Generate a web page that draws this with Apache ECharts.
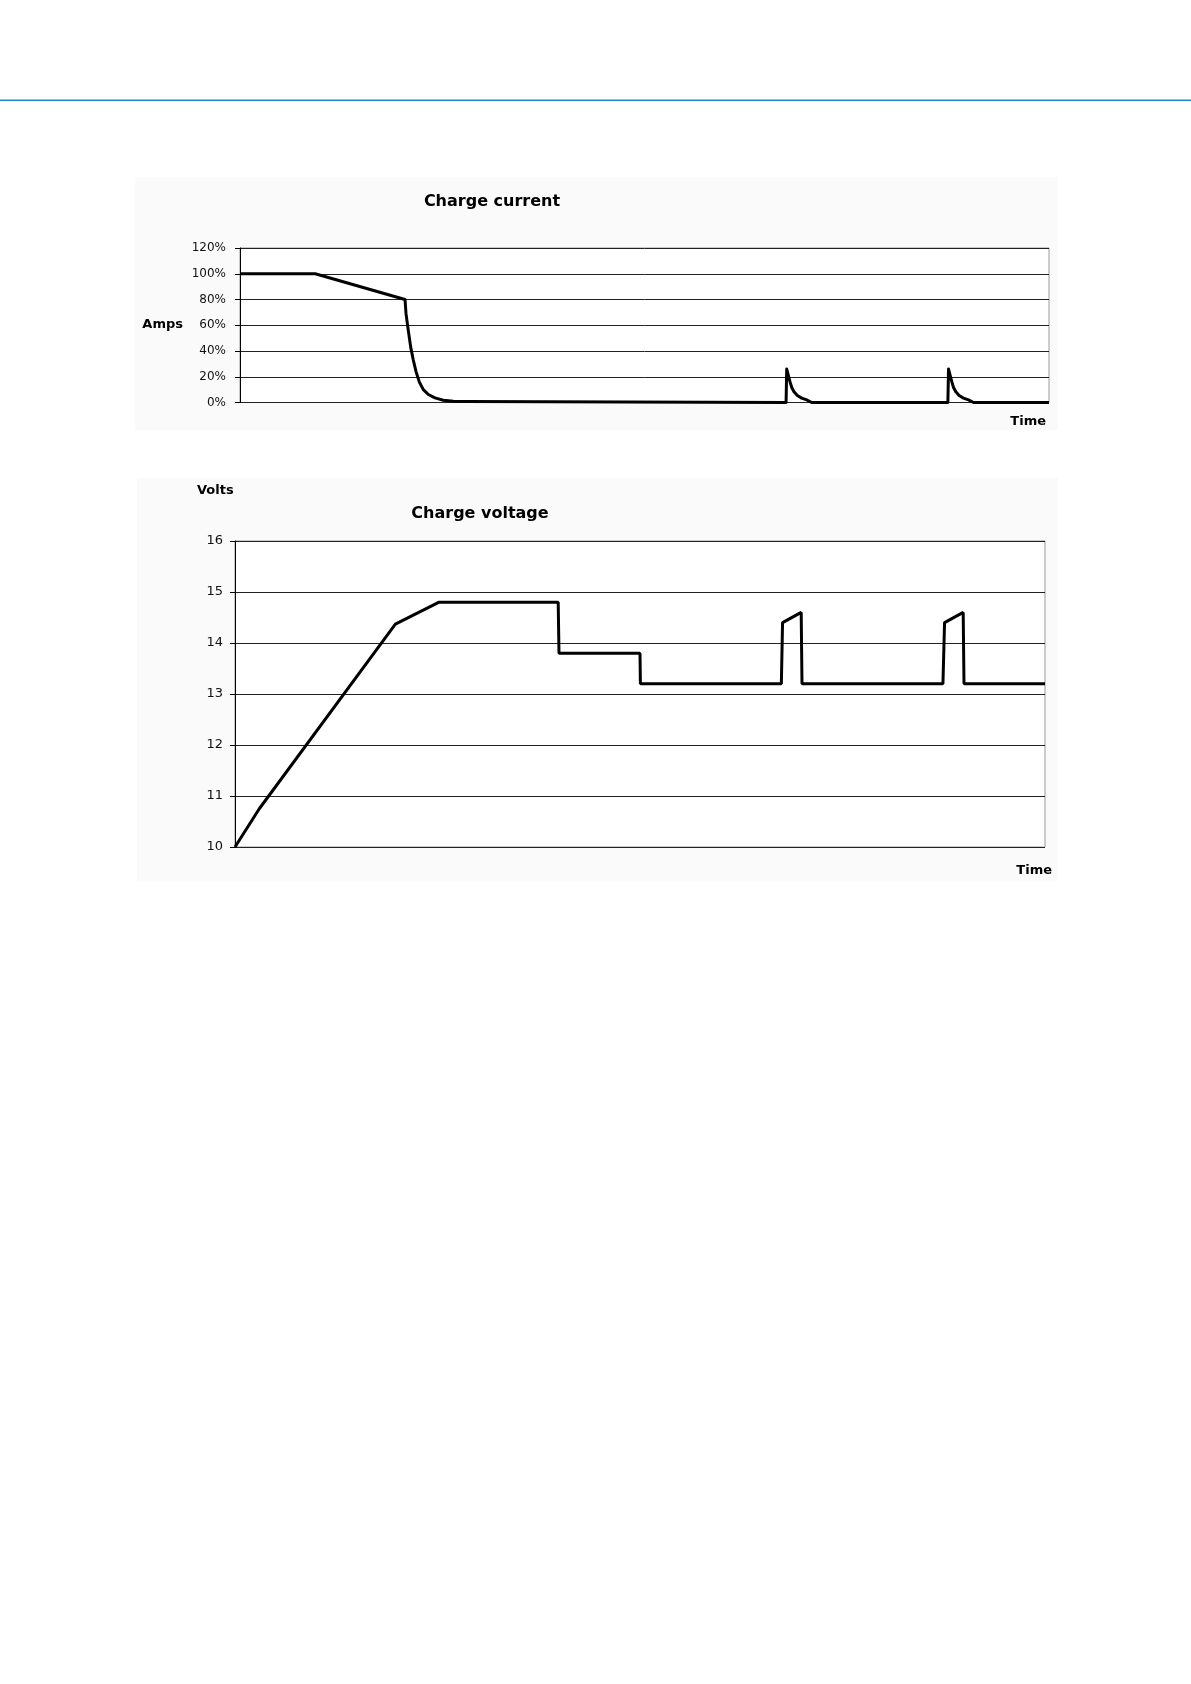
<!DOCTYPE html>
<html>
<head>
<meta charset="utf-8">
<script src="https://cdn.jsdelivr.net/npm/echarts@6/dist/echarts.min.js"></script>
<style>
  html, body { margin: 0; padding: 0; background: #fff; }
  #main { width: 1191px; height: 1684px; }
</style>
</head>
<body>
<div id="main"></div>
<script>
// charge current, time in arbitrary units (0..100), value in % of rated current
var currentTime = [0, 9.3, 20.4, 20.52, 20.8, 21.1, 21.42, 21.76, 22.16, 22.66, 23.28, 24.1, 25.13, 26.37, 28.0, 28.1,
                   67.5, 67.58, 67.78, 67.99, 68.2, 68.48, 68.89, 69.43, 70.05, 70.67,
                   87.5, 87.58, 87.78, 87.99, 88.2, 88.48, 88.89, 89.43, 90.05, 90.67, 100];
var currentPct  = [100, 100, 80, 69, 56, 43, 33, 24, 16, 10, 6.2, 3.6, 1.8, 1.0, 0.8, 0,
                   0, 26, 21, 16, 11.7, 8.3, 5.4, 3.4, 2, 0,
                   0, 26, 21, 16, 11.7, 8.3, 5.4, 3.4, 2, 0, 0];

// charge voltage
var voltTime = [0, 3.0, 19.8, 25.2, 39.9, 40.0, 50.0, 50.05, 67.45, 67.6, 69.9, 70.0, 87.4, 87.6, 89.9, 90.0, 100];
var voltVal  = [10, 10.75, 14.37, 14.8, 14.8, 13.8, 13.8, 13.2, 13.2, 14.4, 14.6, 13.2, 13.2, 14.4, 14.6, 13.2, 13.2];

function pairs(xs, ys) {
    var out = [];
    for (var i = 0; i < xs.length; i++) out.push([xs[i], ys[i]]);
    return out;
}

var font = 'DejaVu Sans';
var myChart = echarts.init(document.getElementById('main'), null, { renderer: 'canvas' });

var yCommon = {
    type: 'value',
    axisLine: { show: true, lineStyle: { color: '#000', width: 1 } },
    axisTick: { show: true, length: 5, lineStyle: { color: '#000' } },
    splitLine: { show: true, lineStyle: { color: '#222', width: 1 } },
    axisLabel: { color: '#111', fontFamily: font }
};

var option = {
    animation: false,
    backgroundColor: '#fff',
    graphic: [
        // blue rule at top of page
        { type: 'rect', shape: { x: 0, y: 99.5, width: 1191, height: 1.6 }, style: { fill: '#2088c8' }, z: -10 },
        // light panels behind the two charts
        { type: 'rect', shape: { x: 135, y: 177, width: 923, height: 253 }, style: { fill: '#fafafa' }, z: -10 },
        { type: 'rect', shape: { x: 137, y: 478, width: 921, height: 403 }, style: { fill: '#fafafa' }, z: -10 },
        // titles and axis names
        { type: 'text', x: 492, y: 202, style: { text: 'Charge current', font: 'bold 16px "DejaVu Sans"', fill: '#000', align: 'center', verticalAlign: 'middle' } },
        { type: 'text', x: 183, y: 325, style: { text: 'Amps', font: 'bold 13px "DejaVu Sans"', fill: '#000', align: 'right', verticalAlign: 'middle' } },
        { type: 'text', x: 1046, y: 422, style: { text: 'Time', font: 'bold 13px "DejaVu Sans"', fill: '#000', align: 'right', verticalAlign: 'middle' } },
        { type: 'text', x: 197, y: 491, style: { text: 'Volts', font: 'bold 13px "DejaVu Sans"', fill: '#000', align: 'left', verticalAlign: 'middle' } },
        { type: 'text', x: 480, y: 514, style: { text: 'Charge voltage', font: 'bold 16px "DejaVu Sans"', fill: '#000', align: 'center', verticalAlign: 'middle' } },
        { type: 'text', x: 1052, y: 871, style: { text: 'Time', font: 'bold 13px "DejaVu Sans"', fill: '#000', align: 'right', verticalAlign: 'middle' } }
    ],
    grid: [
        { left: 240, top: 248, width: 809, height: 154.5, show: true, backgroundColor: '#fff', borderColor: '#999', borderWidth: 1 },
        { left: 235, top: 541, width: 810, height: 306, show: true, backgroundColor: '#fff', borderColor: '#999', borderWidth: 1 }
    ],
    xAxis: [
        { type: 'value', gridIndex: 0, min: 0, max: 100, show: false },
        { type: 'value', gridIndex: 1, min: 0, max: 100, show: false }
    ],
    yAxis: [
        Object.assign({}, yCommon, {
            gridIndex: 0, min: 0, max: 120, interval: 20,
            axisLabel: { color: '#111', fontFamily: font, fontSize: 12, margin: 14, formatter: '{value}%' }
        }),
        Object.assign({}, yCommon, {
            gridIndex: 1, min: 10, max: 16, interval: 1,
            axisLabel: { color: '#111', fontFamily: font, fontSize: 13, margin: 12 }
        })
    ],
    series: [
        {
            name: 'Charge current', type: 'line', xAxisIndex: 0, yAxisIndex: 0,
            data: pairs(currentTime, currentPct),
            showSymbol: false, smooth: false, clip: false,
            lineStyle: { color: '#000', width: 3, join: 'round' }
        },
        {
            name: 'Charge voltage', type: 'line', xAxisIndex: 1, yAxisIndex: 1,
            data: pairs(voltTime, voltVal),
            showSymbol: false, smooth: false, clip: false,
            lineStyle: { color: '#000', width: 3 }
        }
    ]
};

myChart.setOption(option);
</script>
</body>
</html>
